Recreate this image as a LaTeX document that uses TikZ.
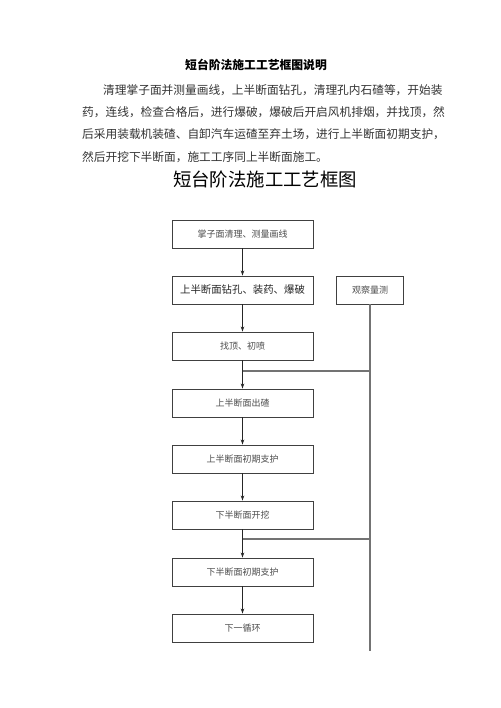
\documentclass[tikz,border=0pt]{standalone}
\usepackage{fontspec}
\setmainfont{Noto Sans CJK SC}
\usetikzlibrary{arrows.meta,calc}
\XeTeXlinebreaklocale "zh"
\XeTeXlinebreakskip=0pt plus 2pt
\begin{document}
\begin{tikzpicture}[x=1pt,y=-1pt,
  stepbox/.style={draw=black!75,line width=0.9pt,minimum width=141pt,minimum height=28pt,inner sep=0pt,text=black!70,font=\fontsize{9}{9}\selectfont},
  flow/.style={draw=black!85,line width=0.8pt,-{Stealth[length=5pt,width=3.5pt]}},
  feed/.style={draw=black!55,line width=1.1pt},
  para/.style={anchor=west,inner sep=0pt,text=black!80,font=\fontsize{11.7}{11.7}\selectfont}]
\useasboundingbox[fill=white] (0,0) rectangle (500,708);
\node[inner sep=0pt,font=\fontsize{11.8}{11.8}\selectfont\bfseries] (t1) at (256,65) {短台阶法施工工艺框图说明};
\node[para] (p1) at (103,90) {\makebox[342pt][s]{清理掌子面并测量画线，上半断面钻孔，清理孔内石碴等，开始装}};
\node[para] (p2) at (82,112) {\makebox[363pt][s]{药，连线，检查合格后，进行爆破，爆破后开启风机排烟，并找顶，然}};
\node[para] (p3) at (82,134) {\makebox[363pt][s]{后采用装载机装碴、自卸汽车运碴至弃土场，进行上半断面初期支护，}};
\node[para] (p4) at (82,157) {然后开挖下半断面，施工工序同上半断面施工。};
\node[inner sep=0pt,font=\fontsize{18.4}{18.4}\selectfont] (t2) at (265,179) {短台阶法施工工艺框图};

\node[stepbox] (b1) at (242.5,234) {掌子面清理、测量画线};
\node[stepbox,font=\fontsize{10.4}{10.4}\selectfont,text=black!85] (b2) at (242.5,290) {上半断面钻孔、装药、爆破};
\node[stepbox] (b3) at (242.5,346) {找顶、初喷};
\node[stepbox] (b4) at (242.5,403) {上半断面出碴};
\node[stepbox] (b5) at (242.5,459) {上半断面初期支护};
\node[stepbox] (b6) at (242.5,515) {下半断面开挖};
\node[stepbox] (b7) at (242.5,572) {下半断面初期支护};
\node[stepbox] (b8) at (242.5,628) {下一循环};
\node[stepbox,minimum width=67pt] (obs) at (370,290) {观察量测};

\draw[flow] (b1) -- (b2);
\draw[flow] (b2) -- (b3);
\draw[flow] (b3) -- (b4);
\draw[flow] (b4) -- (b5);
\draw[flow] (b5) -- (b6);
\draw[flow] (b6) -- (b7);
\draw[flow] (b7) -- (b8);

\coordinate (r1) at (370,371);
\coordinate (r2) at (370,539);
\coordinate (rend) at (370,651);
\coordinate (j1) at (b3.south |- r1);
\coordinate (j2) at (b6.south |- r2);
\draw[feed] (obs.south) -- (rend);
\draw[feed] (r1) -- (j1);
\draw[feed] (r2) -- (j2);
\end{tikzpicture}
\end{document}
